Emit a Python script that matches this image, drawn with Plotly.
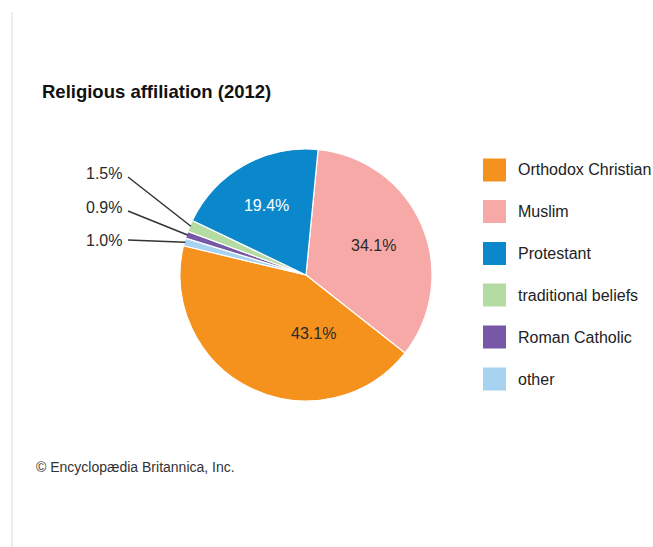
import math
import plotly.graph_objects as go

# Religious affiliation shares (percent), listed in legend order
categories = ["Orthodox Christian", "Muslim", "Protestant",
              "traditional beliefs", "Roman Catholic", "other"]
shares = [43.1, 34.1, 19.4, 1.5, 0.9, 1.0]
colors = ["#F5921E", "#F6A9A6", "#0A88CB", "#B4DBA1", "#7758A7", "#A7D3F0"]
label_colors = ["#2a2a2a", "#2a2a2a", "#FFFFFF", "#2a2a2a", "#2a2a2a", "#2a2a2a"]

# Order in which the slices are laid out clockwise around the pie
pie_order = [1, 0, 5, 4, 3, 2]

W, H = 653, 547
CX, CY, R = 306, 275, 126          # pie centre and radius in pixels
ROTATION = 5.5                      # start angle of the first slice (deg)
FONT = "Liberation Sans, Arial, Helvetica, sans-serif"

# Value labels placed by hand (pixel position of label centre)
manual_labels = {0: (313, 333), 1: (373, 245)}


def px(x):
    return x / W


def py(y):
    return 1 - y / H


vals = [shares[i] for i in pie_order]


def text_pos(idx):
    if shares[idx] < 5 or idx in manual_labels:
        return "none"
    return "inside"


pie = go.Pie(
    labels=[categories[i] for i in pie_order],
    values=vals,
    sort=False,
    direction="clockwise",
    rotation=ROTATION,
    marker=dict(colors=[colors[i] for i in pie_order],
                line=dict(color="white", width=1.2)),
    texttemplate="%{value:.1f}%",
    textposition=[text_pos(i) for i in pie_order],
    insidetextorientation="horizontal",
    textfont=dict(family=FONT, size=16,
                  color=[label_colors[i] for i in pie_order]),
    showlegend=False,
    hoverinfo="label+value",
    domain=dict(x=[px(CX - R), px(CX + R)], y=[py(CY + R), py(CY - R)]),
)

fig = go.Figure(pie)

shapes = []
annotations = []

# Page rule on the left
shapes.append(dict(type="line", xref="paper", yref="paper",
                   x0=px(12), x1=px(12), y0=py(12), y1=0,
                   line=dict(color="#DADADA", width=1)))

# Value labels for the large slices that are positioned manually
for idx, (lx, ly) in manual_labels.items():
    annotations.append(dict(xref="paper", yref="paper", x=px(lx), y=py(ly),
                            xanchor="center", yanchor="middle", showarrow=False,
                            text=f"{shares[idx]:.1f}%",
                            font=dict(family=FONT, size=16, color=label_colors[idx])))

# Callouts for the thin slices: leader line from label to slice mid-angle
label_pos = {3: (173, 177), 4: (207.5, 211), 5: (240.5, 240)}
total = sum(vals)
angle = ROTATION
for k, idx in enumerate(pie_order):
    span = 360 * vals[k] / total
    mid = math.radians(angle + span / 2)
    angle += span
    if idx in label_pos:
        ty, ly = label_pos[idx]
        tip_x = CX + (R - 1) * math.sin(mid)
        tip_y = CY - (R - 1) * math.cos(mid)
        shapes.append(dict(type="line", xref="paper", yref="paper",
                           x0=px(128), y0=py(ly), x1=px(tip_x), y1=py(tip_y),
                           line=dict(color="#333333", width=1.5)))
        annotations.append(dict(xref="paper", yref="paper",
                                x=px(124), y=py(ty), xanchor="right",
                                yanchor="middle", showarrow=False,
                                text=f"{shares[idx]:.1f}%",
                                font=dict(family=FONT, size=16, color="#2a2a2a")))

# Legend: colour swatches with labels
row_y = [170, 211.5, 253.5, 295, 337, 379]
for i, name in enumerate(categories):
    yc = row_y[i]
    shapes.append(dict(type="rect", xref="paper", yref="paper",
                       x0=px(483), x1=px(506), y0=py(yc + 11.5), y1=py(yc - 11.5),
                       fillcolor=colors[i], line=dict(width=0)))
    annotations.append(dict(xref="paper", yref="paper", x=px(516), y=py(yc),
                            xanchor="left", yanchor="middle", showarrow=False,
                            text=name,
                            font=dict(family=FONT, size=16, color="#222222")))

# Title and credit
annotations.append(dict(xref="paper", yref="paper", x=px(40), y=py(92),
                        xanchor="left", yanchor="middle", showarrow=False,
                        text="<b>Religious affiliation (2012)</b>",
                        font=dict(family=FONT, size=18.5, color="#111111")))
annotations.append(dict(xref="paper", yref="paper", x=px(34), y=py(467),
                        xanchor="left", yanchor="middle", showarrow=False,
                        text="© Encyclopædia Britannica, Inc.",
                        font=dict(family=FONT, size=14, color="#333333")))

fig.update_layout(
    width=W, height=H,
    margin=dict(l=0, r=0, t=0, b=0),
    paper_bgcolor="white", plot_bgcolor="white",
    shapes=shapes, annotations=annotations,
)

fig.write_html("out.html")
